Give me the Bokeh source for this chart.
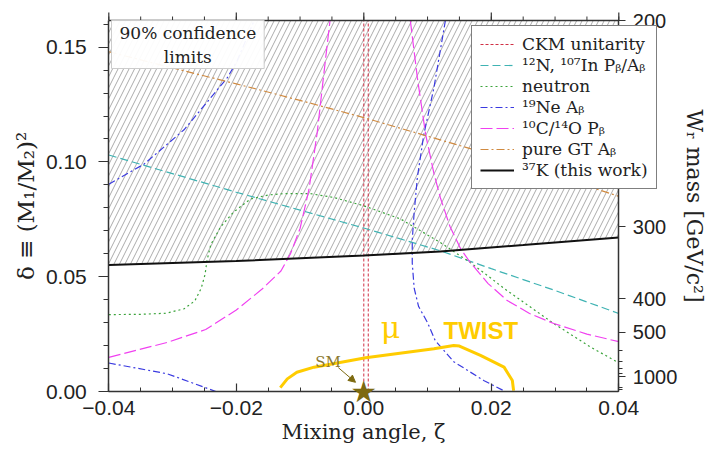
import numpy as np
from bokeh.plotting import figure
from bokeh.models import (LinearAxis, FixedTicker, Range1d, Legend, LegendItem,
                          Label, Arrow, NormalHead)
from bokeh.embed import file_html
from bokeh.resources import INLINE

# ---------------- data ----------------
M_W = 80.4                      # GeV, used for the W_R mass axis mapping
x_ticks = [-0.04, -0.02, 0.0, 0.02, 0.04]
x_tick_labels = ["\u22120.04", "\u22120.02", "0.00", "0.02", "0.04"]
y_ticks = [0.0, 0.05, 0.10, 0.15]
y_tick_labels = ["0.00", "0.05", "0.10", "0.15"]
wr_major = [200, 300, 400, 500, 1000]
wr_minor = [600, 700, 800, 900, 2000, 3000]

ckm_x = [0.0, 0.0007]

n12_x = [-0.04, -0.02, 0.0, 0.012, 0.02, 0.03, 0.04]
n12_y = [0.1030, 0.0868, 0.0712, 0.0613, 0.0535, 0.0440, 0.0340]

neutron_x = [-0.04, -0.035, -0.031, -0.0282, -0.0265, -0.0255, -0.0249, -0.0246,
             -0.024, -0.0225, -0.0205, -0.0178, -0.015, -0.0125, -0.0084, -0.0047,
             0.0, 0.0058, 0.012, 0.0167, 0.0225, 0.0298, 0.0356, 0.04]
neutron_y = [0.0335, 0.0336, 0.0341, 0.0360, 0.0395, 0.0450, 0.0510, 0.0570,
             0.0640, 0.0715, 0.0780, 0.0838, 0.0856, 0.0862, 0.0862, 0.0845,
             0.0809, 0.0751, 0.0649, 0.0562, 0.0439, 0.0296, 0.0193, 0.0125]

ne19_a_x = [-0.04, -0.0345, -0.0282, -0.0240, -0.0214, -0.0199, -0.0185, -0.0172]
ne19_a_y = [0.0903, 0.0990, 0.1140, 0.1280, 0.1367, 0.1439, 0.1530, 0.1616]
ne19_b_x = [-0.04, -0.0308, -0.0232]
ne19_b_y = [0.0124, 0.0077, 0.0]
ne19_c_x = [0.0128, 0.0110, 0.0094, 0.0084, 0.0079, 0.0076, 0.0076, 0.0079,
            0.0086, 0.0100, 0.0112, 0.0141, 0.0188, 0.0222]
ne19_c_y = [0.1616, 0.1323, 0.1117, 0.0932, 0.0780, 0.0660, 0.0560, 0.0450,
            0.0370, 0.0300, 0.0222, 0.0130, 0.0048, 0.0]

c10_a_x = [-0.04, -0.0308, -0.0248, -0.0200, -0.0160, -0.0130, -0.0115, -0.0100,
           -0.0086, -0.0073, -0.0062, -0.0053]
c10_a_y = [0.0149, 0.0214, 0.0270, 0.0355, 0.0445, 0.0525, 0.0600, 0.0710,
           0.0880, 0.1130, 0.1400, 0.1616]
c10_b_x = [0.0073, 0.0084, 0.0097, 0.0110, 0.0120, 0.0135, 0.0152, 0.0167,
           0.0195, 0.0225, 0.0260, 0.0298, 0.0350, 0.0400]
c10_b_y = [0.1616, 0.1367, 0.1120, 0.0950, 0.0845, 0.0720, 0.0621, 0.0562,
           0.0470, 0.0396, 0.0340, 0.0296, 0.0250, 0.0217]

gt_x = [-0.04, -0.0327, -0.02, -0.01, 0.0, 0.0094, 0.0167, 0.03, 0.0387, 0.04]
gt_y = [0.1480, 0.1428, 0.1340, 0.1268, 0.1193, 0.1117, 0.1058, 0.0940, 0.0862, 0.0850]

k37_x = [-0.04, -0.02, 0.0, 0.012, 0.025, 0.04]
k37_y = [0.0551, 0.0568, 0.0592, 0.0610, 0.0638, 0.0671]

twist_x = [-0.0131, -0.0120, -0.0105, -0.0078, 0.0003, 0.0110, 0.0141, 0.0150,
           0.0183, 0.0220, 0.0233, 0.0235]
twist_y = [0.0017, 0.0055, 0.0084, 0.0106, 0.0147, 0.0186, 0.0200, 0.0198,
           0.0157, 0.0106, 0.0048, 0.0004]

sm_point = (0.0, 0.0)

legend_labels = ["CKM unitarity",
                 "\u00b9\u00b2N, \u00b9\u2070\u2077In P\u1d66/A\u1d66",
                 "neutron",
                 "\u00b9\u2079Ne A\u1d66",
                 "\u00b9\u2070C/\u00b9\u2074O P\u1d66",
                 "pure GT A\u1d66",
                 "\u00b3\u2077K (this work)"]

# ---------------- layout ----------------
def delta(m):
    return (M_W / m) ** 2

W, H = 706, 448
x0, x1 = x_ticks[0], x_ticks[-1]
y0, y_top = 0.0, delta(200)
# pixel box of the data area inside the canvas
box_l, box_r, box_t, box_b = 108.3, 618.3, 20.0, 391.0
sx = (box_r - box_l) / (x1 - x0)
sy = (box_b - box_t) / (y_top - y0)
xr = Range1d(x0 - box_l / sx, x1 + (W - box_r) / sx)
yr = Range1d(y0 - (H - box_b) / sy, y_top + box_t / sy)

SERIF = "DejaVu Serif"
SANS = "Liberation Sans"
AX = "#333333"

p = figure(width=W, height=H, output_backend="svg", toolbar_location=None,
           x_range=xr, y_range=yr, x_axis_type=None, y_axis_type=None,
           min_border=0, title=None)
p.xgrid.visible = False
p.ygrid.visible = False
p.outline_line_color = None
p.background_fill_color = "white"
p.border_fill_color = "white"

# hatched excluded region above 37K limit
p.varea(x=k37_x, y1=k37_y, y2=[y_top] * len(k37_x), fill_color=None, fill_alpha=0,
        hatch_pattern="/", hatch_color="#ababab", hatch_scale=11, hatch_weight=1)

r_ckm = p.segment(x0=ckm_x, y0=[y0] * 2, x1=ckm_x, y1=[y_top] * 2,
                  line_color="#d03045", line_width=1, line_dash="3 2")
r_n12 = p.line(n12_x, n12_y, line_color="#3fb3b3", line_width=1.2, line_dash="8 4")
r_neu = p.line(neutron_x, neutron_y, line_color="#3aa33a", line_width=1.2, line_dash="2 3")
r_ne = p.line(ne19_a_x, ne19_a_y, line_color="#3a3ae0", line_width=1.2, line_dash="7 3 2 3")
p.line(ne19_b_x, ne19_b_y, line_color="#3a3ae0", line_width=1.2, line_dash="7 3 2 3")
p.line(ne19_c_x, ne19_c_y, line_color="#3a3ae0", line_width=1.2, line_dash="7 3 2 3")
r_c10 = p.line(c10_a_x, c10_a_y, line_color="#f040f0", line_width=1.2, line_dash="12 4")
p.line(c10_b_x, c10_b_y, line_color="#f040f0", line_width=1.2, line_dash="12 4")
r_gt = p.line(gt_x, gt_y, line_color="#d08a40", line_width=1.2, line_dash="8 3 2 3")
r_k = p.line(k37_x, k37_y, line_color="#111111", line_width=2)
p.line(twist_x, twist_y, line_color="#ffcc00", line_width=3)

# ---------------- axes (drawn at fixed data locations) ----------------
x_minor = list(np.round(np.arange(-0.04, 0.0401, 0.005), 4))
y_minor = list(np.round(np.arange(0.0, 0.1601, 0.01), 3))

bottom = LinearAxis(ticker=FixedTicker(ticks=x_ticks, minor_ticks=x_minor),
                    major_label_overrides=dict(zip(x_ticks, x_tick_labels)),
                    axis_label="Mixing angle, \u03b6",
                    fixed_location=y0, bounds=(x0, x1),
                    major_tick_in=8, major_tick_out=0, minor_tick_in=4, minor_tick_out=0,
                    major_label_standoff=9, axis_label_standoff=2)
left = LinearAxis(ticker=FixedTicker(ticks=y_ticks, minor_ticks=y_minor),
                  major_label_overrides=dict(zip(y_ticks, y_tick_labels)),
                  axis_label="\u03b4 \u2261 (M\u2081/M\u2082)\u00b2",
                  fixed_location=x0, bounds=(y0, y_top),
                  major_tick_in=0, major_tick_out=10, minor_tick_in=0, minor_tick_out=5,
                  major_label_standoff=12, axis_label_standoff=4)
right = LinearAxis(ticker=FixedTicker(ticks=[delta(m) for m in wr_major],
                                      minor_ticks=[delta(m) for m in wr_minor]),
                   major_label_overrides={delta(m): str(m) for m in wr_major},
                   axis_label="W\u1d63 mass [GeV/c\u00b2]",
                   fixed_location=x1, bounds=(y0, y_top),
                   major_tick_in=0, major_tick_out=7, minor_tick_in=0, minor_tick_out=4,
                   major_label_standoff=7, axis_label_standoff=2)
p.add_layout(bottom, "below")
p.add_layout(left, "left")
p.add_layout(right, "right")

for ax in (bottom, left, right):
    ax.axis_line_color = AX
    ax.axis_line_width = 1.5
    ax.major_tick_line_color = AX
    ax.minor_tick_line_color = AX
    ax.major_tick_line_width = 1.2
    ax.axis_label_text_font = SERIF
    ax.axis_label_text_font_style = "normal"
    ax.axis_label_text_color = "#222222"
    ax.major_label_text_font = SANS
    ax.major_label_text_color = "#222222"
    ax.major_label_text_font_size = "21px"
bottom.axis_label_text_font_size = "21px"
left.axis_label_text_font_size = "23px"
right.axis_label_text_font_size = "22px"
right.major_label_text_font_size = "20px"

# top frame edge with outward ticks (same tick positions as the bottom axis)
p.segment(x0=[x0], y0=[y_top], x1=[x1], y1=[y_top], line_color=AX, line_width=1.5)
p.segment(x0=x_ticks, y0=[y_top] * len(x_ticks), x1=x_ticks,
          y1=[y_top + 8 / sy] * len(x_ticks), line_color=AX, line_width=1.2)
p.segment(x0=x_minor, y0=[y_top] * len(x_minor), x1=x_minor,
          y1=[y_top + 4 / sy] * len(x_minor), line_color=AX, line_width=1)

# ---------------- annotations ----------------
p.add_layout(Label(x=sm_point[0], y=sm_point[1], text="\u2605", text_color="#7d6a10",
                   text_font="DejaVu Sans", text_font_size="30px",
                   text_align="center", text_baseline="middle"))
p.add_layout(Label(x=-0.0056, y=0.0128, text="SM", text_color="#8c7a30",
                   text_font=SERIF, text_font_size="15px", text_align="center",
                   text_baseline="alphabetic"))
p.add_layout(Arrow(end=NormalHead(size=7, fill_color="#7d6a10", line_color="#7d6a10"),
                   x_start=-0.0040, y_start=0.0104, x_end=-0.0013, y_end=0.0040,
                   line_color="#7d6a10", line_width=1))
p.add_layout(Label(x=0.0042, y=0.0278, text="\u03bc", text_color="#ffcc00",
                   text_font=SERIF, text_font_size="30px", text_align="center",
                   text_baseline="middle"))
p.add_layout(Label(x=0.0125, y=0.0265, text="TWIST", text_color="#ffcc00",
                   text_font=SANS, text_font_style="bold",
                   text_font_size="24px", text_align="left", text_baseline="alphabetic"))
p.add_layout(Label(x=-0.0276, y=y_top, text="90% confidence\nlimits",
                   text_font=SERIF, text_font_size="17px", text_color="#222222",
                   text_align="center", text_baseline="top",
                   background_fill_color="white", background_fill_alpha=0.95,
                   border_line_color="#cccccc", border_line_width=1,
                   padding=dict(left=8, right=8, top=2, bottom=2)))

# legend
LEG_L, LEG_T, PAD, GW, STAND, ROW, SP = 471, 27, 8, 34, 8, 20, 1
renderers = [r_ckm, r_n12, r_neu, r_ne, r_c10, r_gt, r_k]
items = [LegendItem(label=lab, renderers=[r]) for lab, r in zip(legend_labels, renderers)]
n_rows = len(items)
leg_h = 2 * PAD + n_rows * ROW + (n_rows - 1) * SP
legend = Legend(items=items, location=(LEG_L, H - LEG_T - leg_h),
                label_text_font=SERIF, label_text_font_size="17px",
                label_text_color="#222222", glyph_width=GW, glyph_height=ROW,
                label_height=ROW, label_standoff=STAND, spacing=SP, padding=PAD, margin=0,
                border_line_color="black", border_line_width=1.5, background_fill_alpha=1.0)
p.add_layout(legend)

open("out.html", "w").write(file_html(p, INLINE))
